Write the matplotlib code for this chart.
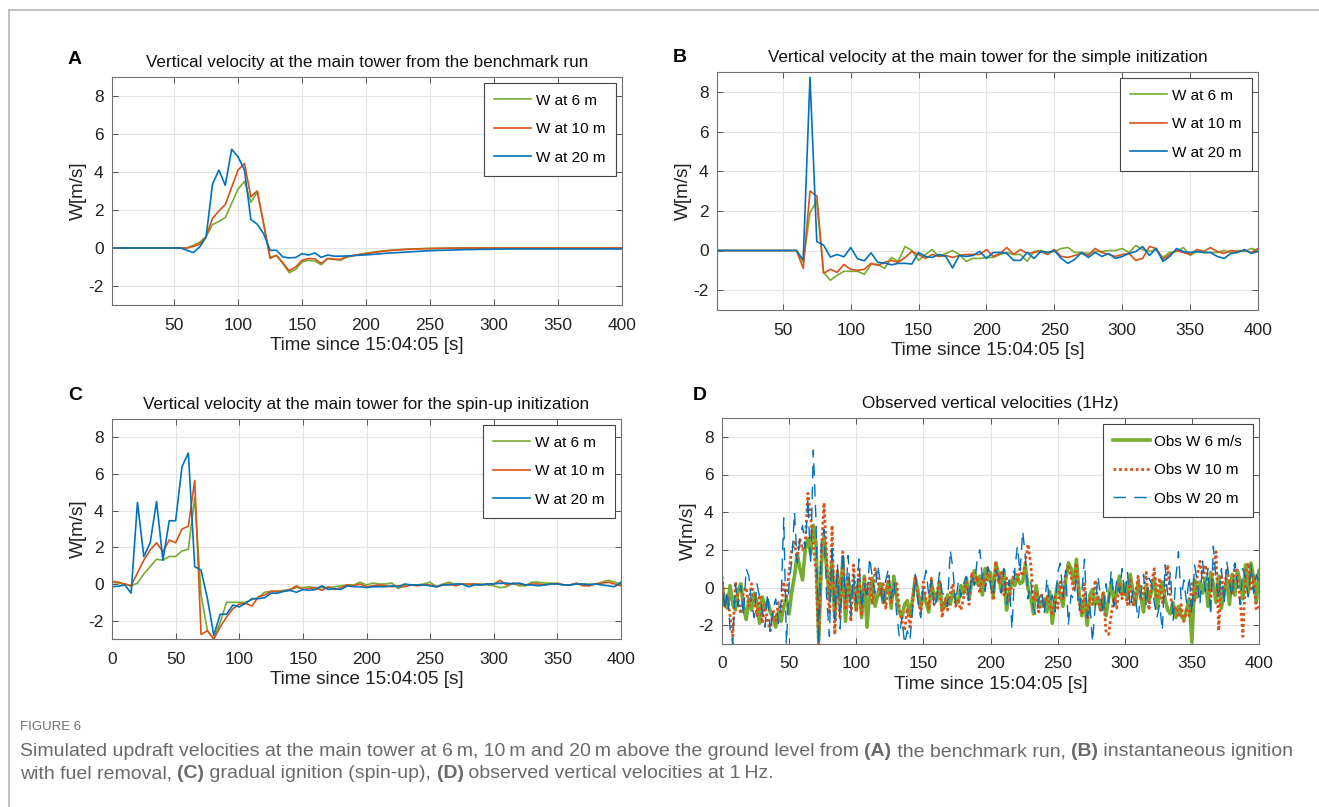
import matplotlib
matplotlib.use("Agg")
import matplotlib.pyplot as plt
import numpy as np
from matplotlib.lines import Line2D

plt.rcParams['font.family'] = ['Liberation Sans', 'DejaVu Sans']
plt.rcParams['axes.unicode_minus'] = False

# Цвета MATLAB
C6, C10, C20 = '#77AC30', '#D95319', '#0072BD'

# --- данные: модель, шаг 5 с ---
t5 = np.arange(0, 401, 5)

# (A) контрольный расчёт: 0..55 c нули, затем 60..185, затем хвост 190..400
a_w6 = [0.0] * 12 + [
    0.0, 0.14, 0.3, 0.6, 1.23, 1.4, 1.6, 2.35, 3.1, 3.5,
    2.4, 2.95, 1.27, -0.47, -0.4, -0.82, -1.3, -1.13, -0.73, -0.65,
    -0.68, -0.88, -0.55, -0.6, -0.65, -0.48] + [
    -0.4, -0.33, -0.27, -0.22, -0.18, -0.14, -0.11, -0.09, -0.07, -0.05,
    -0.04, -0.03, -0.02, -0.02, -0.01, -0.01, 0.0, 0.0, 0.0, 0.0] + [0.0] * 23
a_w10 = [0.0] * 12 + [
    0.0, 0.08, 0.2, 0.6, 1.55, 1.95, 2.28, 3.2, 4.1, 4.45,
    2.7, 3.0, 1.27, -0.55, -0.38, -0.78, -1.2, -1.0, -0.65, -0.55,
    -0.57, -0.82, -0.55, -0.58, -0.6, -0.45] + [
    -0.4, -0.35, -0.3, -0.25, -0.2, -0.16, -0.13, -0.1, -0.08, -0.06,
    -0.05, -0.04, -0.03, -0.02, -0.02, -0.01, -0.01, 0.0, 0.0, 0.0] + [0.0] * 23
a_w20 = [0.0] * 12 + [
    -0.12, -0.24, 0.05, 0.57, 3.35, 4.1, 3.3, 5.2, 4.8, 4.1,
    1.5, 1.25, 0.75, -0.12, -0.12, -0.47, -0.52, -0.5, -0.3, -0.37,
    -0.26, -0.49, -0.37, -0.43, -0.43, -0.42] + [
    -0.4, -0.38, -0.36, -0.34, -0.31, -0.28, -0.26, -0.24, -0.22, -0.2,
    -0.18, -0.16, -0.14, -0.13, -0.12, -0.11, -0.1, -0.09, -0.08, -0.08,
    -0.07, -0.07, -0.06, -0.06, -0.05, -0.05, -0.05, -0.05, -0.05, -0.05] + [-0.05] * 13

# (B) простая инициализация: 0..60 c нули, затем 65..400
b_w6 = [0.0] * 13 + [
    -0.6, 1.9, 2.5, -1.1, -1.5, -1.25, -1.05, -1.05, -1.05, -1.2,
    -0.7, -0.7, -0.9, -0.35, -0.55, 0.2, 0.0, -0.5, -0.2, 0.05,
    -0.3, -0.15, 0.0, -0.2, -0.55, -0.4, -0.4, -0.35, -0.35, -0.2,
    -0.1, -0.2, -0.2, -0.55, -0.05, 0.0, -0.1, -0.05, 0.1, 0.15,
    -0.1, -0.1, -0.15, -0.05, -0.05, 0.0, 0.0, 0.1, -0.1, 0.25,
    0.05, -0.05, 0.05, -0.35, -0.1, -0.05, 0.15, -0.25, -0.05, -0.1,
    -0.1, -0.1, 0.0, -0.1, 0.0, -0.05, 0.1, 0.0]
b_w10 = [0.0] * 13 + [
    -0.9, 3.0, 2.75, -1.15, -0.95, -1.1, -0.7, -0.95, -1.0, -0.95,
    -0.65, -0.75, -0.6, -0.5, -0.6, -0.35, -0.05, -0.2, -0.4, -0.2,
    -0.3, -0.25, -0.35, -0.25, -0.2, -0.2, -0.2, 0.05, -0.3, -0.15,
    0.15, -0.2, 0.05, -0.15, -0.1, -0.05, -0.2, 0.05, -0.3, -0.35,
    -0.25, -0.15, -0.25, 0.1, -0.1, -0.2, -0.3, -0.2, -0.15, -0.5,
    -0.4, 0.2, 0.1, -0.45, -0.2, 0.0, -0.1, -0.2, 0.05, -0.05,
    0.15, -0.05, -0.15, 0.0, -0.05, 0.0, -0.1, 0.1]
b_w20 = [0.0] * 13 + [
    -0.47, 8.73, 0.45, 0.27, -0.33, -0.2, -0.32, 0.15, -0.42, -0.52,
    -0.12, -0.6, -0.63, -0.72, -0.65, -0.65, -0.68, -0.1, -0.3, -0.35,
    -0.2, -0.3, -0.88, -0.25, -0.3, -0.25, -0.05, -0.4, -0.1, -0.1,
    -0.15, -0.5, -0.5, -0.1, -0.4, -0.05, -0.1, 0.0, -0.4, -0.65,
    -0.45, -0.1, -0.35, -0.1, -0.3, -0.15, -0.4, -0.3, -0.15, -0.05,
    0.2, -0.25, 0.1, -0.55, -0.3, 0.1, -0.05, -0.1, -0.05, -0.1,
    -0.1, -0.3, -0.4, -0.15, -0.1, 0.05, -0.15, -0.05]

# (C) spin-up, 0..400
c_w6 = [
    0.1, 0.05, 0.0, -0.1, 0.05, 0.55, 0.95, 1.35, 1.3, 1.5,
    1.5, 1.8, 1.9, 4.7, -0.6, -2.55, -3.0, -2.1, -1.0, -1.0,
    -1.0, -1.0, -0.85, -0.75, -0.45, -0.4, -0.4, -0.35, -0.3, -0.2,
    -0.2, -0.15, -0.2, -0.2, -0.2, -0.15, -0.1, -0.05, -0.05, 0.1,
    -0.05, 0.05, 0.0, 0.0, 0.05, -0.25, -0.1, -0.05, -0.05, 0.0,
    0.1, -0.15, 0.0, 0.1, -0.05, 0.0, -0.05, 0.0, 0.0, -0.05,
    -0.1, -0.2, -0.15, 0.05, -0.1, -0.1, 0.1, 0.1, 0.05, 0.05,
    0.0, -0.05, -0.05, 0.0, 0.0, 0.0, 0.0, 0.1, 0.2, 0.1,
    0.0]
c_w10 = [
    0.15, 0.1, 0.0, -0.1, 0.6, 1.3, 1.85, 2.25, 1.75, 2.4,
    2.25, 3.0, 3.15, 5.65, -2.75, -2.55, -3.0, -2.35, -1.8, -1.35,
    -1.1, -1.05, -1.2, -0.7, -0.6, -0.4, -0.4, -0.4, -0.3, -0.1,
    -0.3, -0.25, -0.2, -0.35, -0.15, -0.3, -0.2, -0.05, -0.1, 0.0,
    -0.15, -0.1, -0.05, -0.1, -0.15, -0.1, -0.15, -0.05, -0.1, -0.05,
    -0.05, -0.15, -0.05, 0.0, -0.1, 0.0, 0.0, 0.0, -0.05, 0.0,
    0.0, 0.2, -0.05, 0.05, 0.0, -0.05, 0.0, 0.0, -0.05, 0.0,
    0.05, -0.05, -0.05, 0.05, -0.1, -0.1, 0.0, 0.05, 0.1, 0.0,
    -0.1]
c_w20 = [
    -0.15, -0.12, -0.05, -0.5, 4.45, 1.5, 2.25, 4.5, 1.3, 3.45,
    3.45, 6.4, 7.15, 0.95, 0.75, -0.8, -2.8, -1.65, -1.65, -1.15,
    -1.25, -1.05, -0.8, -0.8, -0.75, -0.5, -0.5, -0.4, -0.35, -0.45,
    -0.3, -0.35, -0.3, -0.1, -0.3, -0.25, -0.3, -0.1, -0.15, -0.15,
    -0.2, -0.15, -0.15, -0.15, -0.1, -0.15, 0.0, -0.05, -0.05, -0.05,
    -0.1, -0.15, -0.05, -0.05, 0.0, 0.0, -0.15, -0.05, -0.05, 0.0,
    0.0, 0.05, 0.05, 0.0, 0.05, -0.05, -0.05, -0.1, -0.05, 0.0,
    0.0, -0.05, -0.05, 0.0, 0.0, -0.05, 0.0, -0.05, -0.1, -0.15,
    0.1]

# --- (D) наблюдения, шаг 2 с ---
t2 = np.arange(0, 401, 2)
d_w6 = [0.2, -0.8, -1.1, 0.1, -0.9, -1.2, -0.2, 0.2, -1.0, -1.7,
        -0.6, -1.2, -0.3, -0.8, -1.9, -0.5, -1.1, -0.7, -1.3, -1.6,
        -2.1, -1.3, -1.8, -1.0, -0.6, -1.4, -0.2, 0.6, 1.8, 1.0,
        0.4, 2.0, 2.6, 1.8, 3.3, 2.4, -2.8, 1.2, 2.7, 1.0,
        -0.5, 1.4, -1.6, 0.8, -0.9, 1.5, -1.8, 0.5, -0.6, 0.1,
        -1.2, 0.4, -1.6, 0.6, -2.1, -0.3, 0.5, -1.0, -0.4, 0.2,
        -0.8, -0.2, 0.3, -1.1, 0.6, -0.5, -1.3, -1.6, -0.9, -0.7,
        -1.5, -0.6, 0.5, -0.2, -1.1, -0.3, -0.8, -1.3, 0.2, -0.4,
        -0.7, 0.3, -1.2, -1.0, -0.4, -0.9, -0.2, -0.6, -0.8, 0.1,
        -0.3, 0.5, -0.6, 0.3, 0.9, 0.2, 0.6, -0.4, 1.0, 0.4,
        0.8, -0.5, 1.3, 0.7, -0.2, 0.9, -1.2, -0.3, 0.4, 0.1,
        0.6, 0.2, 0.3, 1.2, -0.1, -0.5, -1.4, 0.1, -0.8, -1.0,
        -0.6, -1.3, -0.2, -1.9, -0.7, 0.2, -0.4, -1.0, 0.4, 1.3,
        1.0, 0.2, 1.5, -0.3, -1.5, -0.6, -2.0, -0.4, -0.1, -0.9,
        -0.5, -1.2, -0.3, -1.5, -0.6, 0.3, -0.8, -0.2, 0.6, -0.4,
        0.2, -0.6, 0.7, -0.2, -0.9, 0.3, -0.5, -1.3, 0.1, -0.7,
        -0.2, 0.5, -1.1, -0.4, 0.3, -0.6, -1.2, -1.4, -0.8, -1.6,
        -1.0, -1.5, -1.7, -1.2, -0.6, -2.9, 0.4, -0.5, 0.3, -0.3,
        0.5, -1.0, 0.8, 0.2, -0.8, 0.6, -1.1, -0.2, 0.4, -0.9,
        0.7, -0.4, 0.9, 0.3, -0.6, 1.2, -0.3, 1.3, 0.5, -0.8,
        0.9]
d_w10 = [0.6, -1.0, -0.4, -1.5, -2.6, 0.3, -0.8, -1.4, -0.2, 0.0,
         -1.0, 0.2, -0.6, -1.5, -0.4, -1.9, -0.9, -1.8, -2.3, -1.2,
         -1.8, -0.8, -1.3, 0.3, -0.6, 0.9, 2.0, 2.4, 1.5, 2.6,
         2.0, 2.4, 5.0, 3.8, 2.3, 0.8, -3.0, 2.0, 4.5, 1.5,
         -1.4, 3.3, -2.5, 0.9, -1.7, 1.9, -1.2, 0.6, -1.8, 1.2,
         -1.3, 1.1, -1.5, 0.6, -0.4, 0.5, -0.9, 1.0, 0.4, -0.5,
         0.2, -1.1, 0.6, -0.8, -0.2, 0.3, -1.0, -1.8, -2.3, -1.1,
         -2.1, -0.8, 0.6, -0.5, -1.4, 0.3, -0.6, -1.1, 0.5, -0.9,
         -0.3, 0.4, -1.6, -0.6, -1.2, -0.3, 0.2, -1.0, -0.7, -1.2,
         -0.5, 0.3, -0.9, 0.8, 0.2, 0.6, -0.3, 0.7, 0.1, 1.1,
         0.3, -0.7, 1.4, 0.2, 0.8, -0.4, 0.5, -0.8, 0.3, 0.9,
         0.4, 1.0, 0.6, 1.4, 2.3, 1.2, -0.7, -0.2, -1.3, -0.3,
         -1.1, -0.4, -0.9, -1.5, -0.5, -1.1, 0.3, -0.6, 0.8, 1.1,
         0.6, -0.2, 1.3, -0.8, -1.4, 0.2, -1.7, -0.5, -0.9, 0.4,
         -0.7, -1.2, -0.3, -2.3, -2.5, -1.4, -0.5, -1.1, 0.2, -0.6,
         -0.2, -0.9, 0.5, -1.0, -0.4, 0.6, -0.7, -0.2, 0.8, -1.2,
         0.3, 1.0, -0.6, 0.5, -0.8, -0.3, 1.2, -0.4, -1.3, -1.0,
         -1.6, -0.9, -1.8, -1.2, -1.5, 0.2, -0.8, 0.6, 1.4, 0.5,
         1.2, 0.4, -0.6, 0.9, 1.9, -2.3, 0.7, -0.5, 1.0, 0.3,
         -0.4, 1.2, 0.5, -0.7, -2.6, 0.8, 1.3, -0.2, 0.6, -1.2,
         -1.0]
d_w20 = [0.8, -1.2, -0.2, -2.2, -3.0, 0.2, -1.0, 0.1, -1.5, 1.0,
         0.6, -0.8, -1.6, 0.2, -0.5, -1.2, -2.1, -0.3, -2.4, -1.1,
         -0.6, -1.9, -0.8, 3.7, -3.0, 0.3, 1.4, 4.0, 1.3, 2.6,
         3.3, 2.1, 4.7, 1.2, 7.3, 3.6, -3.0, 2.4, 3.1, -0.5,
         -2.6, 2.3, -1.7, 1.2, -2.2, 1.9, -0.6, 1.7, -1.5, 0.7,
         -0.8, 1.5, -1.1, 0.2, -0.6, 1.6, 0.5, -0.3, 1.2, 0.2,
         -1.0, 0.4, 1.0, -0.6, 0.3, -1.3, -2.6, -1.6, -3.0, -2.3,
         -2.8, -1.2, 0.7, -0.8, -1.6, 0.2, 0.9, -0.4, 0.4, -1.1,
         -0.6, 0.8, -0.3, -0.4, -1.0, 2.0, 1.0, -0.9, 0.3, -0.5,
         0.2, 0.6, -0.7, 0.7, 0.1, 1.4, 2.0, 0.5, -0.2, 1.1,
         0.1, -0.5, 0.9, 0.6, -0.3, 1.0, -0.9, 0.4, -2.2, 0.9,
         2.2, 0.8, 3.0, 1.6, -0.6, 0.3, -1.1, -1.5, -0.6, -0.2,
         -1.4, 0.5, -0.8, -0.4, -1.3, 0.8, 1.3, -0.5, 0.9, -2.0,
         -0.4, -0.6, 0.4, -1.2, -0.3, 1.5, -1.6, -0.9, -2.9, -1.0,
         0.6, -0.5, -1.4, 0.2, -0.8, 0.9, -1.0, 0.4, -0.3, 1.0,
         -0.5, 0.8, -1.1, -0.2, -0.6, -1.7, -0.3, 0.7, -1.0, 0.5,
         0.2, -0.8, -1.6, -0.9, -2.3, 1.2, -0.4, 0.8, -1.8, 0.5,
         1.9, -0.6, 0.4, -0.8, 0.6, -1.4, 1.2, 0.3, -0.9, 1.4,
         -0.2, 1.0, -1.5, 2.2, 0.4, -0.6, 1.0, -0.9, 1.4, 0.3,
         -0.5, 1.3, 0.2, -0.9, 1.0, 0.5, -0.5, 1.2, -0.3, 0.7,
         0.2]

titles = ['Vertical velocity at the main tower from the benchmark run',
          'Vertical velocity at the main tower for the simple initization',
          'Vertical velocity at the main tower for the spin-up initization',
          'Observed vertical velocities (1Hz)']
sim_labels = ['W at 6 m', 'W at 10 m', 'W at 20 m']
obs_labels = ['Obs W 6 m/s', 'Obs W 10 m', 'Obs W 20 m']

W, H = 1319, 807
fig = plt.figure(figsize=(W / 100, H / 100), dpi=100)


def px_axes(l, r, t, b):
    return fig.add_axes([l / W, 1 - b / H, (r - l) / W, (b - t) / H])


def style(ax, xlim, xticks):
    ax.set_xlim(*xlim)
    ax.set_ylim(-3, 9)
    ax.set_xticks(xticks)
    ax.set_yticks([-2, 0, 2, 4, 6, 8])
    ax.grid(True, color='#e3e3e3', lw=0.8)
    ax.set_axisbelow(True)
    for s in ax.spines.values():
        s.set_color('#707070')
        s.set_linewidth(0.8)
    ax.tick_params(direction='in', top=True, right=True, length=4, width=0.7,
                   color='#555555', labelsize=12.5, labelcolor='#222222')
    ax.tick_params(axis='x', pad=9)
    ax.tick_params(axis='y', pad=6)
    ax.set_xlabel('Time since 15:04:05 [s]', fontsize=13.6, color='#222222', labelpad=3)
    ax.set_ylabel('W[m/s]', fontsize=13.6, color='#222222', labelpad=1)


def legend(ax):
    lg = ax.legend(loc='upper right', fontsize=11, handlelength=2.4, handletextpad=0.3,
                   labelspacing=0.95, borderpad=0.7, borderaxespad=0.4, fancybox=False,
                   framealpha=1, edgecolor='#444444')
    lg.get_frame().set_linewidth(0.8)


axA = px_axes(112, 622, 77, 305)
axB = px_axes(717, 1258, 72, 310)
axC = px_axes(112, 621, 419, 639)
axD = px_axes(722, 1259, 418, 644)

for ax, data in [(axA, (a_w6, a_w10, a_w20)), (axB, (b_w6, b_w10, b_w20)),
                 (axC, (c_w6, c_w10, c_w20))]:
    for y, c, lab in zip(data, (C6, C10, C20), sim_labels):
        ax.plot(t5, y, color=c, lw=1.2, label=lab)

axD.plot(t2, d_w6, color=C6, lw=2.6, label=obs_labels[0])
axD.plot(t2, d_w10, color=C10, lw=2.0, ls=(0, (1, 1)), label=obs_labels[1])
axD.plot(t2, d_w20, color=C20, lw=1.0, ls=(0, (9, 6)), label=obs_labels[2])

ticks_nz = [50, 100, 150, 200, 250, 300, 350, 400]
ticks_z = [0] + ticks_nz
style(axA, (1.5, 400), ticks_nz)
style(axB, (1.5, 400), ticks_nz)
style(axC, (0, 400), ticks_z)
style(axD, (0, 400), ticks_z)

for ax, ttl in zip([axA, axB, axC, axD], titles):
    ax.set_title(ttl, fontsize=12.3, color='#111111', pad=7)
    legend(ax)

for lab, x, y in [('A', 75, 60), ('B', 680, 58), ('C', 75, 395), ('D', 700, 395)]:
    fig.text(x / W, 1 - y / H, lab, fontsize=14, fontweight='bold', ha='center', va='center')

# рамка рисунка
fig.add_artist(Line2D([9 / W, 1], [1 - 10 / H, 1 - 10 / H], color='#b5b5b5', lw=1.2))
fig.add_artist(Line2D([9 / W, 9 / W], [0, 1 - 10 / H], color='#b5b5b5', lw=1.2))

# подпись
cap_font = ['Liberation Sans Narrow', 'Liberation Sans', 'DejaVu Sans']
fig.text(20 / W, 1 - 727 / H, 'FIGURE 6', fontsize=9.5, color='#6e6e6e', family=cap_font,
         va='center')

line1 = [('Simulated updraft velocities at the main tower at 6\u2009m, 10\u2009m and 20\u2009m above '
          'the ground level from ', False), ('(A)', True), (' the benchmark run, ', False),
         ('(B)', True), (' instantaneous ignition', False)]
line2 = [('with fuel removal, ', False), ('(C)', True), (' gradual ignition (spin-up), ', False),
         ('(D)', True), (' observed vertical velocities at 1\u2009Hz.', False)]

renderer = fig.canvas.get_renderer()


def put_line(parts, y, size):
    x = 20
    arts = []
    for s, bold in parts:
        tx = fig.text(x / W, 1 - y / H, s, fontsize=size, color='#6a6a6a', va='center',
                      family=cap_font, fontweight='bold' if bold else 'normal')
        x += tx.get_window_extent(renderer).width
        arts.append(tx)
    return x - 20, arts


w1, arts = put_line(line1, 752, 12)
for a in arts:
    a.remove()
size = 12 * 1270 / w1
put_line(line1, 752, size)
put_line(line2, 774, size)

fig.savefig('out.png', dpi=100)
